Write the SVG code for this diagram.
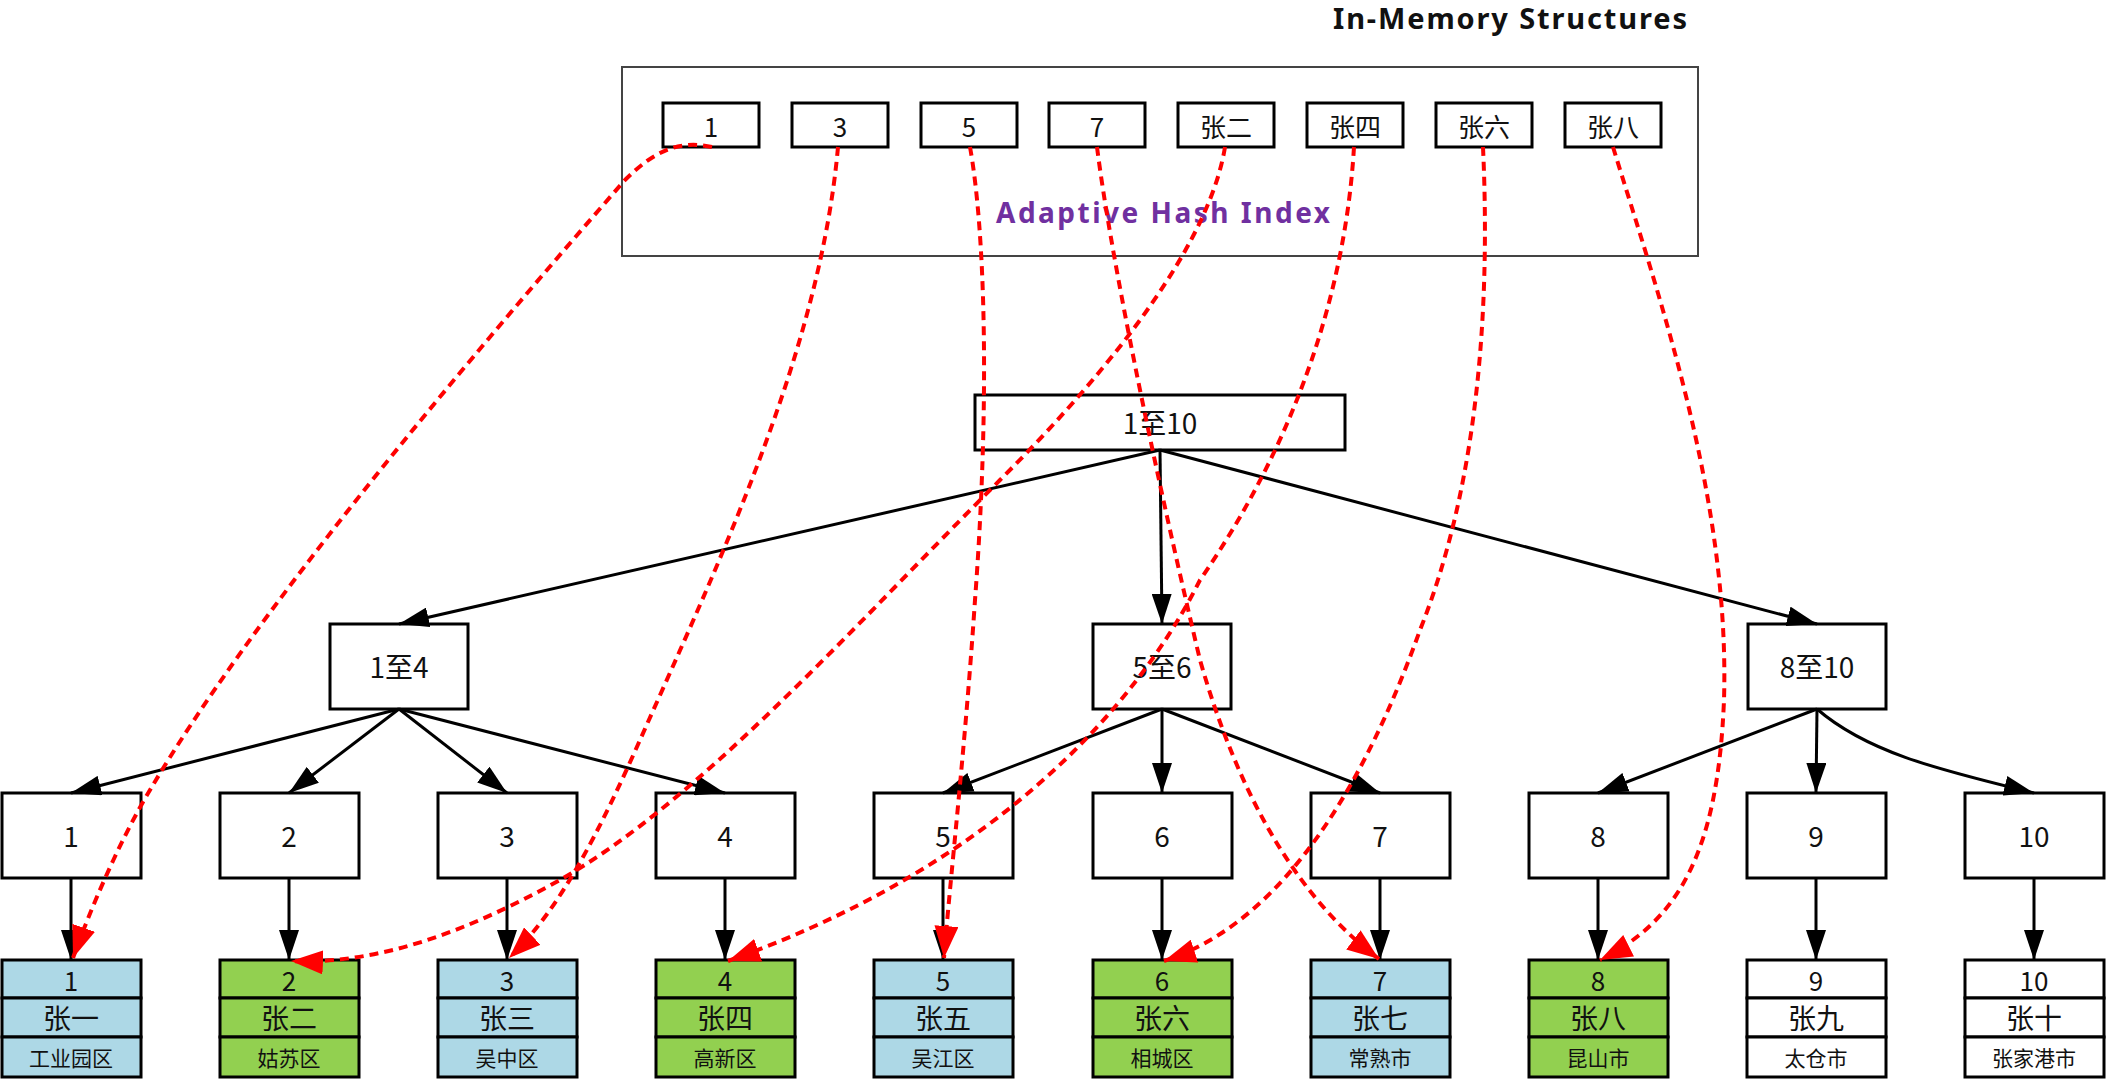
<svg xmlns="http://www.w3.org/2000/svg" width="2116" height="1080" viewBox="0 0 2116 1080">
<style>
text{font-family:"Noto Sans CJK SC","Noto Sans",sans-serif;fill:#111;text-anchor:middle;dominant-baseline:central}
.box{fill:#fff;stroke:#000;stroke-width:3}
.blue{fill:#ADD8E6;stroke:#000;stroke-width:3}
.green{fill:#92D050;stroke:#000;stroke-width:3}
.white{fill:#fff;stroke:#000;stroke-width:3}
.t26{font-size:26px}
.t28{font-size:28px}
.t21{font-size:21px}
.edge{fill:none;stroke:#000;stroke-width:3;marker-end:url(#ab)}
.ptr{fill:none;stroke:#f00;stroke-width:4;stroke-dasharray:9 6;marker-end:url(#ar)}
</style>
<defs>
<marker id="ab" markerUnits="userSpaceOnUse" markerWidth="30" markerHeight="20" refX="30" refY="10" orient="auto"><path d="M0,0 L30,10 L0,20 z" fill="#000"/></marker>
<marker id="ar" markerUnits="userSpaceOnUse" markerWidth="32" markerHeight="24" refX="32" refY="12" orient="auto"><path d="M0,0 L32,12 L0,24 z" fill="#f00"/></marker>
</defs>
<rect width="2116" height="1080" fill="#fff"/>
<text x="1510" y="29" style="font-family:'Noto Sans',sans-serif;font-weight:bold;font-size:29px;dominant-baseline:alphabetic" textLength="354">In-Memory Structures</text>

<g id="ahi">
<rect x="622" y="67" width="1076" height="189" fill="#fff" stroke="#444" stroke-width="2"/>
<text x="1163" y="212" style="font-family:'Noto Sans',sans-serif;font-weight:bold;font-size:28px;fill:#7030A0" textLength="334">Adaptive Hash Index</text>
</g>
<g id="h1"><rect class="box" x="663" y="103" width="96" height="44"/><text class="t26" x="711" y="125">1</text></g>
<g id="h3"><rect class="box" x="792" y="103" width="96" height="44"/><text class="t26" x="840" y="125">3</text></g>
<g id="h5"><rect class="box" x="921" y="103" width="96" height="44"/><text class="t26" x="969" y="125">5</text></g>
<g id="h7"><rect class="box" x="1049" y="103" width="96" height="44"/><text class="t26" x="1097" y="125">7</text></g>
<g id="hz2"><rect class="box" x="1178" y="103" width="96" height="44"/><text class="t26" x="1226" y="125">张二</text></g>
<g id="hz4"><rect class="box" x="1307" y="103" width="96" height="44"/><text class="t26" x="1355" y="125">张四</text></g>
<g id="hz6"><rect class="box" x="1436" y="103" width="96" height="44"/><text class="t26" x="1484" y="125">张六</text></g>
<g id="hz8"><rect class="box" x="1565" y="103" width="96" height="44"/><text class="t26" x="1613" y="125">张八</text></g>

<g id="root"><rect class="box" x="975" y="395" width="370" height="55"/><text class="t28" x="1160" y="422">1至10</text></g>
<g id="n14"><rect class="box" x="330" y="624" width="138" height="85"/><text class="t28" x="399" y="666">1至4</text></g>
<g id="n56"><rect class="box" x="1093" y="624" width="138" height="85"/><text class="t28" x="1162" y="666">5至6</text></g>
<g id="n810"><rect class="box" x="1748" y="624" width="138" height="85"/><text class="t28" x="1817" y="666">8至10</text></g>

<g id="i1"><rect class="box" x="2" y="793" width="139" height="85"/><text class="t28" x="71" y="835">1</text></g>
<g id="i2"><rect class="box" x="220" y="793" width="139" height="85"/><text class="t28" x="289" y="835">2</text></g>
<g id="i3"><rect class="box" x="438" y="793" width="139" height="85"/><text class="t28" x="507" y="835">3</text></g>
<g id="i4"><rect class="box" x="656" y="793" width="139" height="85"/><text class="t28" x="725" y="835">4</text></g>
<g id="i5"><rect class="box" x="874" y="793" width="139" height="85"/><text class="t28" x="943" y="835">5</text></g>
<g id="i6"><rect class="box" x="1093" y="793" width="139" height="85"/><text class="t28" x="1162" y="835">6</text></g>
<g id="i7"><rect class="box" x="1311" y="793" width="139" height="85"/><text class="t28" x="1380" y="835">7</text></g>
<g id="i8"><rect class="box" x="1529" y="793" width="139" height="85"/><text class="t28" x="1598" y="835">8</text></g>
<g id="i9"><rect class="box" x="1747" y="793" width="139" height="85"/><text class="t28" x="1816" y="835">9</text></g>
<g id="i10"><rect class="box" x="1965" y="793" width="139" height="85"/><text class="t28" x="2034" y="835">10</text></g>

<g id="r1"><rect class="blue" x="2" y="960" width="139" height="38"/><rect class="blue" x="2" y="998" width="139" height="39"/><rect class="blue" x="2" y="1037" width="139" height="40"/><text class="t26" x="71" y="979">1</text><text class="t28" x="71" y="1017">张一</text><text class="t21" x="71" y="1057">工业园区</text></g>
<g id="r2"><rect class="green" x="220" y="960" width="139" height="38"/><rect class="green" x="220" y="998" width="139" height="39"/><rect class="green" x="220" y="1037" width="139" height="40"/><text class="t26" x="289" y="979">2</text><text class="t28" x="289" y="1017">张二</text><text class="t21" x="289" y="1057">姑苏区</text></g>
<g id="r3"><rect class="blue" x="438" y="960" width="139" height="38"/><rect class="blue" x="438" y="998" width="139" height="39"/><rect class="blue" x="438" y="1037" width="139" height="40"/><text class="t26" x="507" y="979">3</text><text class="t28" x="507" y="1017">张三</text><text class="t21" x="507" y="1057">吴中区</text></g>
<g id="r4"><rect class="green" x="656" y="960" width="139" height="38"/><rect class="green" x="656" y="998" width="139" height="39"/><rect class="green" x="656" y="1037" width="139" height="40"/><text class="t26" x="725" y="979">4</text><text class="t28" x="725" y="1017">张四</text><text class="t21" x="725" y="1057">高新区</text></g>
<g id="r5"><rect class="blue" x="874" y="960" width="139" height="38"/><rect class="blue" x="874" y="998" width="139" height="39"/><rect class="blue" x="874" y="1037" width="139" height="40"/><text class="t26" x="943" y="979">5</text><text class="t28" x="943" y="1017">张五</text><text class="t21" x="943" y="1057">吴江区</text></g>
<g id="r6"><rect class="green" x="1093" y="960" width="139" height="38"/><rect class="green" x="1093" y="998" width="139" height="39"/><rect class="green" x="1093" y="1037" width="139" height="40"/><text class="t26" x="1162" y="979">6</text><text class="t28" x="1162" y="1017">张六</text><text class="t21" x="1162" y="1057">相城区</text></g>
<g id="r7"><rect class="blue" x="1311" y="960" width="139" height="38"/><rect class="blue" x="1311" y="998" width="139" height="39"/><rect class="blue" x="1311" y="1037" width="139" height="40"/><text class="t26" x="1380" y="979">7</text><text class="t28" x="1380" y="1017">张七</text><text class="t21" x="1380" y="1057">常熟市</text></g>
<g id="r8"><rect class="green" x="1529" y="960" width="139" height="38"/><rect class="green" x="1529" y="998" width="139" height="39"/><rect class="green" x="1529" y="1037" width="139" height="40"/><text class="t26" x="1598" y="979">8</text><text class="t28" x="1598" y="1017">张八</text><text class="t21" x="1598" y="1057">昆山市</text></g>
<g id="r9"><rect class="white" x="1747" y="960" width="139" height="38"/><rect class="white" x="1747" y="998" width="139" height="39"/><rect class="white" x="1747" y="1037" width="139" height="40"/><text class="t26" x="1816" y="979">9</text><text class="t28" x="1816" y="1017">张九</text><text class="t21" x="1816" y="1057">太仓市</text></g>
<g id="r10"><rect class="white" x="1965" y="960" width="139" height="38"/><rect class="white" x="1965" y="998" width="139" height="39"/><rect class="white" x="1965" y="1037" width="139" height="40"/><text class="t26" x="2034" y="979">10</text><text class="t28" x="2034" y="1017">张十</text><text class="t21" x="2034" y="1057">张家港市</text></g>

<g id="connectors">
<path class="edge" d="M1160,450 L399,624"/>
<path class="edge" d="M1160,450 L1162,624"/>
<path class="edge" d="M1160,450 L1817,624"/>
<path class="edge" d="M399,709 L71,793"/>
<path class="edge" d="M399,709 L289,793"/>
<path class="edge" d="M399,709 L507,793"/>
<path class="edge" d="M399,709 L725,793"/>
<path class="edge" d="M1162,709 L943,793"/>
<path class="edge" d="M1162,709 L1162,793"/>
<path class="edge" d="M1162,709 L1380,793"/>
<path class="edge" d="M1817,709 L1598,793"/>
<path class="edge" d="M1817,709 L1816,793"/>
<path class="edge" d="M1817,709 C1870,755 1950,772 2034,793"/>
<path class="edge" d="M71,878 L71,960"/>
<path class="edge" d="M289,878 L289,960"/>
<path class="edge" d="M507,878 L507,960"/>
<path class="edge" d="M725,878 L725,960"/>
<path class="edge" d="M943,878 L943,960"/>
<path class="edge" d="M1162,878 L1162,960"/>
<path class="edge" d="M1380,878 L1380,960"/>
<path class="edge" d="M1598,878 L1598,960"/>
<path class="edge" d="M1816,878 L1816,960"/>
<path class="edge" d="M2034,878 L2034,960"/>

<path class="ptr" d="M712,147 C680,140 655,150 625,180 C450,380 250,620 150,790 C120,840 90,910 73,958"/>
<path class="ptr" d="M838,147 C820,350 720,560 640,740 C600,830 560,910 509,958"/>
<path class="ptr" d="M970,147 C985,230 990,400 975,600 C965,750 950,880 944,958"/>
<path class="ptr" d="M1097,147 C1110,250 1150,450 1200,660 C1240,800 1300,900 1379,959"/>
<path class="ptr" d="M1225,147 C1210,240 1120,360 1000,480 C850,630 700,800 560,880 C470,930 380,965 291,961"/>
<path class="ptr" d="M1354,147 C1345,300 1290,450 1200,580 C1160,660 1040,850 728,961"/>
<path class="ptr" d="M1483,147 C1490,300 1480,480 1420,630 C1370,770 1290,920 1164,961"/>
<path class="ptr" d="M1613,147 C1660,300 1730,500 1724,700 C1718,850 1680,920 1600,960"/>
</g>
</svg>
